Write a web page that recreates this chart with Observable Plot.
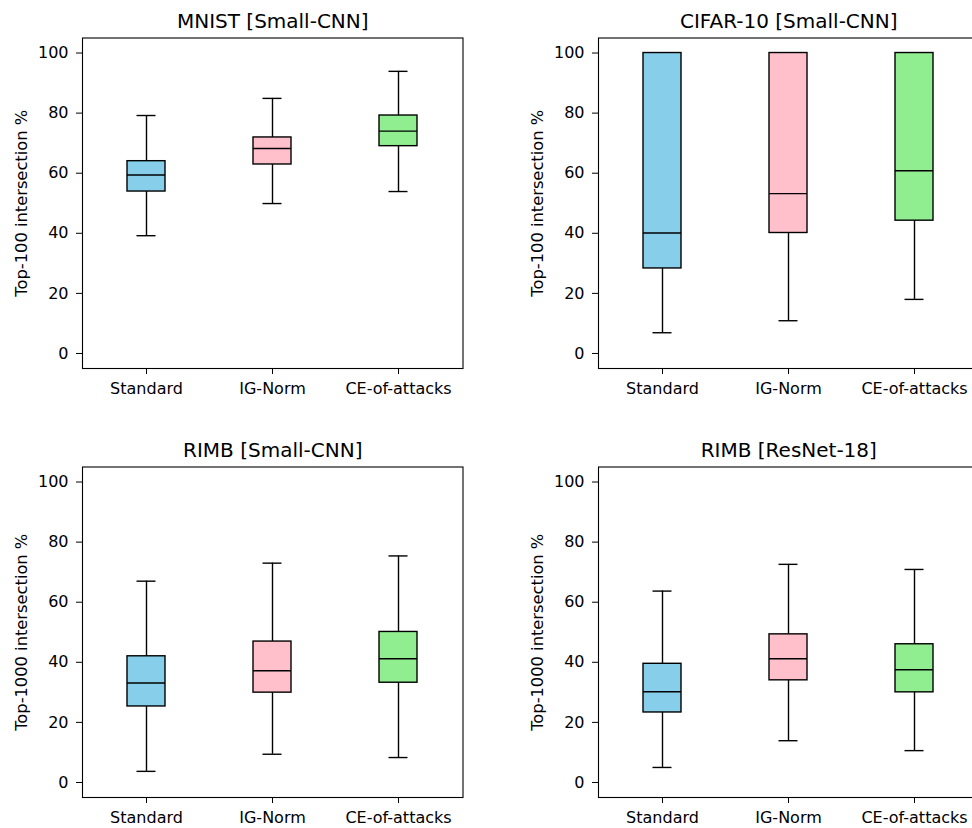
<!DOCTYPE html>
<html>
<head>
<meta charset="utf-8">
<script src="https://cdn.jsdelivr.net/npm/d3@7"></script>
<script src="https://cdn.jsdelivr.net/npm/@observablehq/plot@0.6"></script>
<style>
  html, body { margin: 0; padding: 0; background: #ffffff; overflow: hidden; }
  #fig { position: relative; width: 972px; height: 828px; overflow: hidden; background: #ffffff; }
  #fig svg { position: absolute; max-width: none; }
</style>
</head>
<body>
<div id="fig"></div>
<script>
// ---- data ----
const categories = ["Standard", "IG-Norm", "CE-of-attacks"];
const boxColors = ["#87CEEB", "#FFC0CB", "#90EE90"];
const yTicks = [0, 20, 40, 60, 80, 100];

const titles = ["MNIST [Small-CNN]", "CIFAR-10 [Small-CNN]", "RIMB [Small-CNN]", "RIMB [ResNet-18]"];
const yLabels = ["Top-100 intersection %", "Top-100 intersection %", "Top-1000 intersection %", "Top-1000 intersection %"];

const mnistLow  = [39.2, 49.9, 53.9];
const mnistQ1   = [53.9, 62.9, 69.0];
const mnistMed  = [59.4, 68.2, 74.0];
const mnistQ3   = [64.0, 71.9, 79.2];
const mnistHigh = [79.2, 84.9, 93.9];

const cifarLow  = [6.9, 10.9, 18.0];
const cifarQ1   = [28.3, 40.1, 44.2];
const cifarMed  = [40.1, 53.2, 60.8];
const cifarQ3   = [100, 100, 100];
const cifarHigh = [100, 100, 100];

const rimbCnnLow  = [3.7, 9.4, 8.3];
const rimbCnnQ1   = [25.3, 29.9, 33.2];
const rimbCnnMed  = [33.1, 37.2, 41.2];
const rimbCnnQ3   = [42.0, 46.9, 50.1];
const rimbCnnHigh = [67.0, 73.0, 75.4];

const rimbResLow  = [5.0, 13.9, 10.6];
const rimbResQ1   = [23.3, 34.0, 30.0];
const rimbResMed  = [30.2, 41.2, 37.5];
const rimbResQ3   = [39.5, 49.3, 46.0];
const rimbResHigh = [63.7, 72.6, 70.9];

// ---- layout ----
const panels = [
  {low: mnistLow, q1: mnistQ1, med: mnistMed, q3: mnistQ3, high: mnistHigh, left: 0, top: 0},
  {low: cifarLow, q1: cifarQ1, med: cifarMed, q3: cifarQ3, high: cifarHigh, left: 515.7, top: 0},
  {low: rimbCnnLow, q1: rimbCnnQ1, med: rimbCnnMed, q3: rimbCnnQ3, high: rimbCnnHigh, left: 0, top: 428.5},
  {low: rimbResLow, q1: rimbResQ1, med: rimbResMed, q3: rimbResQ3, high: rimbResHigh, left: 515.7, top: 428.5}
];

const fig = document.getElementById("fig");
const lw = 1.4;

panels.forEach((p, k) => {
  const rows = categories.map((c, i) => ({
    cat: c, color: boxColors[i],
    low: p.low[i], q1: p.q1[i], med: p.med[i], q3: p.q3[i], high: p.high[i]
  }));
  const svg = Plot.plot({
    width: 486,
    height: 414,
    marginLeft: 82,
    marginRight: 23.5,
    marginTop: 37.5,
    marginBottom: 46,
    style: {fontFamily: "'DejaVu Sans', sans-serif", fontSize: "16px", color: "#000", background: "transparent", overflow: "visible"},
    x: {type: "band", domain: categories, paddingInner: 0.7, paddingOuter: 0.35, label: null, tickSize: 6, tickPadding: 8},
    y: {domain: [-5, 105], ticks: yTicks, label: null, tickSize: 6, tickPadding: 8},
    color: {type: "identity"},
    marks: [
      Plot.ruleX(rows, {x: "cat", y1: "q3", y2: "high", stroke: "#000", strokeWidth: lw}),
      Plot.ruleX(rows, {x: "cat", y1: "low", y2: "q1", stroke: "#000", strokeWidth: lw}),
      Plot.tickY(rows, {x: "cat", y: "high", insetLeft: 9.5, insetRight: 9.5, stroke: "#000", strokeWidth: lw}),
      Plot.tickY(rows, {x: "cat", y: "low", insetLeft: 9.5, insetRight: 9.5, stroke: "#000", strokeWidth: lw}),
      Plot.barY(rows, {x: "cat", y1: "q1", y2: "q3", fill: "color", stroke: "#000", strokeWidth: lw}),
      Plot.tickY(rows, {x: "cat", y: "med", stroke: "#000", strokeWidth: lw}),
      Plot.frame({stroke: "#000", strokeWidth: 1.1}),
      Plot.text([titles[k]], {text: d => d, frameAnchor: "top", lineAnchor: "bottom", dy: -10, fontSize: 20, fill: "#000"}),
      Plot.text([yLabels[k]], {text: d => d, frameAnchor: "left", rotate: -90, textAnchor: "middle", lineAnchor: "top", dx: -67, fontSize: 16.3, fill: "#000"})
    ]
  });
  svg.style.left = p.left + "px";
  svg.style.top = p.top + "px";
  fig.appendChild(svg);
});
</script>
</body>
</html>
